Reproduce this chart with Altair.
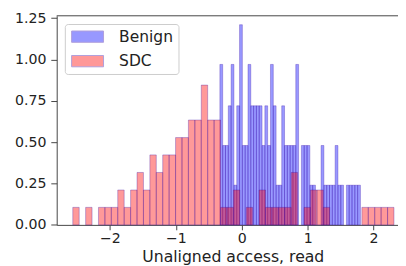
import altair as alt
import pandas as pd

# ---- data (density histogram, 50 bins per series) ----
series_names = ["Benign", "SDC"]
benign_range = [-0.332, 1.801]
sdc_range = [-2.564, 2.310]
n_bins = 50

benign_density = [
    0.97, 0.48, 0.48, 0.72, 0.97, 0.24, 0.72, 1.21, 0.48, 0.48,
    0.97, 0.72, 0.72, 0.72, 0.72, 0.48, 0.72, 0.48, 0.97, 0.72,
    0.24, 0.24, 0.72, 0.48, 0.48, 0.48, 0.48, 0.97, 0.00, 0.48,
    0.48, 0.48, 0.24, 0.24, 0.00, 0.00, 0.48, 0.24, 0.24, 0.24,
    0.24, 0.48, 0.24, 0.24, 0.00, 0.24, 0.24, 0.24, 0.24, 0.24,
]
sdc_density = [
    0.106, 0.000, 0.106, 0.000, 0.106, 0.106, 0.106, 0.211, 0.106, 0.211,
    0.317, 0.211, 0.423, 0.317, 0.423, 0.423, 0.528, 0.528, 0.634, 0.634,
    0.845, 0.634, 0.634, 0.106, 0.106, 0.211, 0.000, 0.106, 0.000, 0.211,
    0.106, 0.106, 0.106, 0.106, 0.317, 0.000, 0.106, 0.211, 0.211, 0.106,
    0.000, 0.000, 0.000, 0.000, 0.000, 0.106, 0.106, 0.106, 0.106, 0.106,
]
x_ticks = [-2, -1, 0, 1, 2]
y_ticks = [0.0, 0.25, 0.5, 0.75, 1.0, 1.25]
x_title = "Unaligned access, read"

# ---- table ----
rows = []
for name, (lo, hi), dens in [("Benign", benign_range, benign_density),
                             ("SDC", sdc_range, sdc_density)]:
    w = (hi - lo) / n_bins
    for i, d in enumerate(dens):
        if d > 0:
            rows.append({"series": name, "start": lo + i * w,
                         "end": lo + (i + 1) * w, "density": d, "base": 0.0})
df = pd.DataFrame(rows)

W, H = 348.3, 213.4
EDGE = "#3a10a8"
FONT = "DejaVu Sans"
AX = "#444444"

x_scale = alt.Scale(domain=[-2.808, 2.371], nice=False, zero=False)
y_scale = alt.Scale(domain=[0, 1.264], nice=False, zero=False)

bars = alt.Chart(df).mark_rect(
    fillOpacity=0.4, strokeOpacity=0.4, stroke=EDGE, strokeWidth=0.8
).encode(
    x=alt.X("start:Q", scale=x_scale, axis=alt.Axis(
        values=x_ticks, format="d",
        labelExpr="replace(datum.label, '-', '\u2212')",
        grid=False, tickSize=5, labelPadding=13.3, labelBaseline="alphabetic",
        labelFont=FONT, labelFontSize=14.4, labelColor="#222222",
        domainColor=AX, tickColor=AX, labelFlush=False,
        title=x_title, titleFont=FONT, titleFontSize=16, titleFontWeight="normal",
        titleColor="#222222", titleX=179.7, titleY=37.3, titleAlign="center",
        titleBaseline="alphabetic")),
    x2="end:Q",
    y=alt.Y("density:Q", scale=y_scale, axis=alt.Axis(
        values=y_ticks, format=".2f", grid=False, tickSize=6, labelPadding=5,
        labelFont=FONT, labelFontSize=14.4, labelColor="#222222",
        domainColor=AX, tickColor=AX, title=None, labelFlush=False)),
    y2="base:Q",
    color=alt.Color("series:N", scale=alt.Scale(domain=series_names, range=["blue", "red"]),
                    legend=alt.Legend(
                        title=None, orient="none", legendX=8.3, legendY=8.4,
                        fillColor="rgba(255,255,255,0.8)", strokeColor="#cccccc",
                        cornerRadius=3, padding=5,
                        symbolType="M-1,-0.96L4.43,-0.96L4.43,0.96L-1,0.96Z",
                        symbolSize=144, symbolStrokeColor=EDGE, symbolStrokeWidth=1,
                        symbolOpacity=0.4, labelFont=FONT, labelFontSize=15.8,
                        labelColor="#222222", labelOffset=34.6, rowPadding=8)),
)

top_spine = alt.Chart(pd.DataFrame({"a": [0]})).mark_rule(color=AX, strokeWidth=1).encode(
    y=alt.value(0), x=alt.value(0), x2=alt.value(W)
)

chart = alt.layer(bars, top_spine).properties(
    width=W, height=H,
    autosize=alt.AutoSizeParams(type="none"),
    padding={"left": 49.7, "top": 5.3, "right": 0, "bottom": 39.3},
).configure(font=FONT).configure_view(stroke="transparent")

chart.save("out.html", embed_options={"renderer": "svg", "actions": False})
